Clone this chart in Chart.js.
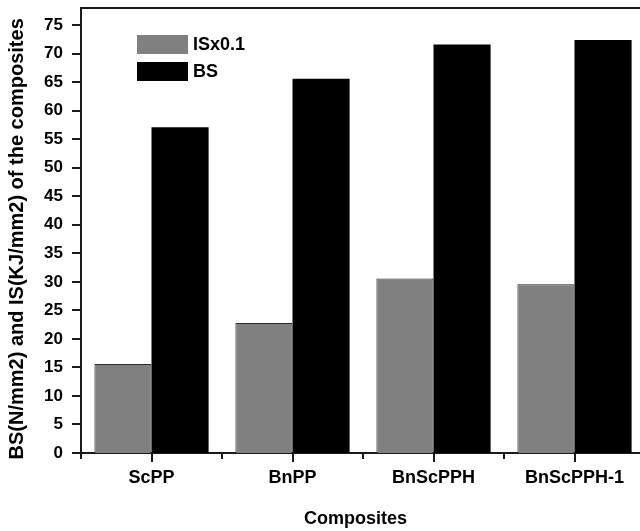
<!DOCTYPE html>
<html>
<head>
<meta charset="utf-8">
<script src="https://cdn.jsdelivr.net/npm/chart.js@4"></script>
<style>
html,body{margin:0;padding:0;background:#fff;overflow:hidden;width:640px;height:531px;}
#wrap{width:646px;height:531px;}
</style>
</head>
<body>
<div id="wrap"><canvas id="c" width="646" height="531"></canvas></div>
<script>
const categories = ['ScPP', 'BnPP', 'BnScPPH', 'BnScPPH-1'];
const isValues = [15.6, 22.8, 30.6, 29.6];
const bsValues = [57.1, 65.6, 71.6, 72.4];
const seriesLabels = ['ISx0.1', 'BS'];
const yTitle = 'BS(N/mm2) and IS(KJ/mm2) of the composites   ';
const xTitle = 'Composites   ';

const FONT = "'Liberation Sans', Arial, sans-serif";
const AX = '#1a1a1a';

const decor = {
  id: 'decor',
  afterDraw(chart) {
    const {ctx, chartArea: a, scales: {x, y}} = chart;
    ctx.save();
    ctx.strokeStyle = AX;
    ctx.lineWidth = 2;
    ctx.beginPath(); ctx.moveTo(a.left - 1, a.top); ctx.lineTo(a.right, a.top); ctx.stroke();
    y.ticks.forEach(t => {
      const py = Math.round(y.getPixelForValue(t.value));
      const major = Math.abs(t.value % 5) < 1e-9;
      ctx.beginPath(); ctx.moveTo(a.left - (major ? 9 : 6), py); ctx.lineTo(a.left, py); ctx.stroke();
    });
    for (let i = 0; i < categories.length; i++) {
      const cx = Math.round(x.getPixelForValue(i));
      ctx.beginPath(); ctx.moveTo(cx, a.bottom); ctx.lineTo(cx, a.bottom + 9); ctx.stroke();
      const bx = Math.round(x.getPixelForValue(i - 0.5));
      ctx.beginPath(); ctx.moveTo(bx, a.bottom); ctx.lineTo(bx, a.bottom + 6); ctx.stroke();
    }
    const lx = 137, ly = 35, bw = 51, bh = 19, gap = 27;
    chart.data.datasets.forEach((ds, i) => {
      const yy = ly + i * gap;
      ctx.fillStyle = ds.backgroundColor;
      ctx.fillRect(lx, yy, bw, bh);
      ctx.fillStyle = '#000';
      ctx.font = 'bold 18px ' + FONT;
      ctx.textBaseline = 'middle';
      ctx.textAlign = 'left';
      ctx.fillText(ds.label, lx + bw + 5, yy + bh / 2 + 1);
    });
    ctx.restore();
  }
};

new Chart(document.getElementById('c'), {
  type: 'bar',
  data: {
    labels: categories,
    datasets: [
      {label: seriesLabels[0], data: isValues, backgroundColor: '#808080', borderColor: '#2a2a2a', borderWidth: 1},
      {label: seriesLabels[1], data: bsValues, backgroundColor: '#000000', borderColor: '#000000', borderWidth: 0}
    ]
  },
  options: {
    responsive: false,
    animation: false,
    layout: {padding: {top: 8, right: 1, left: 0, bottom: 0}},
    datasets: {bar: {categoryPercentage: 0.81, barPercentage: 1.0}},
    plugins: {legend: {display: false}, tooltip: {enabled: false}},
    scales: {
      x: {
        grid: {display: false, drawTicks: false},
        border: {display: true, color: AX, width: 2},
        ticks: {color: '#000', padding: 14, font: {family: FONT, size: 18, weight: 'bold'}, maxRotation: 0},
        title: {display: true, text: xTitle, color: '#000', font: {family: FONT, size: 18, weight: 'bold'}, padding: {top: 0, bottom: 1}},
        afterFit(s) { s.height = 78; s.paddingLeft = 0; s.paddingRight = 0; }
      },
      y: {
        min: 0, max: 78,
        grid: {display: false, drawTicks: false},
        border: {display: true, color: AX, width: 2},
        ticks: {stepSize: 2.5, color: '#000', padding: 18, font: {family: FONT, size: 17, weight: 'bold'},
          callback: v => (Math.abs(v % 5) < 1e-9 ? String(v) : '')},
        afterBuildTicks(s) { s.ticks = s.ticks.filter(t => Math.abs(t.value % 2.5) < 1e-9); },
        title: {display: true, text: yTitle, color: '#000', font: {family: FONT, size: 20, weight: 'bold'}, padding: {top: 5, bottom: 0}},
        afterFit(s) { s.width = 81; s.paddingTop = 0; s.paddingBottom = 0; }
      }
    }
  },
  plugins: [decor]
});
</script>
</body>
</html>
